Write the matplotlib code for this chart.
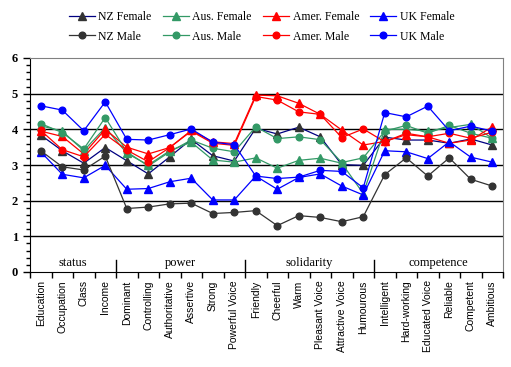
import matplotlib.pyplot as plt
from matplotlib.ticker import MultipleLocator

categories = ['Education', 'Occupation', 'Class', 'Income',
              'Dominant', 'Controlling', 'Authoritative', 'Assertive', 'Strong', 'Powerful Voice',
              'Friendly', 'Cheerful', 'Warm', 'Pleasant Voice', 'Attractive Voice', 'Humourous',
              'Intelligent', 'Hard-working', 'Educated Voice', 'Reliable', 'Competent', 'Ambitious']
groups = ['status', 'power', 'solidarity', 'competence']
group_sizes = [4, 6, 6, 6]

nz_female = [3.84, 3.40, 3.05, 3.49, 3.12, 2.75, 3.23, 3.72, 3.26, 3.11,
             4.03, 3.87, 4.06, 3.79, 3.01, 2.99, 3.78, 3.70, 3.70, 3.61, 3.73, 3.56]
aus_female = [4.10, 3.95, 3.40, 4.05, 3.33, 3.00, 3.40, 3.64, 3.14, 3.08,
              3.20, 2.91, 3.13, 3.19, 3.05, 2.20, 4.00, 4.00, 3.95, 4.05, 4.14, 3.75]
amer_female = [3.95, 3.80, 3.31, 4.00, 3.50, 3.31, 3.49, 3.97, 3.65, 3.60,
               4.96, 4.94, 4.73, 4.42, 3.98, 3.56, 3.66, 3.85, 3.79, 3.61, 3.70, 4.07]
uk_female = [3.37, 2.74, 2.64, 2.99, 2.32, 2.34, 2.53, 2.63, 2.02, 2.02,
             2.69, 2.32, 2.65, 2.75, 2.41, 2.16, 3.40, 3.37, 3.18, 3.65, 3.22, 3.08]
nz_male = [3.40, 2.95, 2.86, 3.25, 1.78, 1.82, 1.91, 1.93, 1.64, 1.67,
           1.72, 1.30, 1.58, 1.53, 1.41, 1.55, 2.73, 3.20, 2.69, 3.20, 2.60, 2.41]
aus_male = [4.16, 3.91, 3.45, 4.33, 3.37, 2.97, 3.37, 3.70, 3.47, 3.37,
            4.07, 3.74, 3.79, 3.71, 3.07, 3.20, 3.95, 4.11, 3.89, 4.11, 3.89, 3.75]
amer_male = [3.97, 3.43, 3.23, 3.86, 3.42, 3.09, 3.49, 3.95, 3.61, 3.55,
             4.92, 4.82, 4.49, 4.42, 3.77, 4.01, 3.65, 3.89, 3.79, 3.89, 3.75, 3.92]
uk_male = [4.66, 4.54, 3.96, 4.77, 3.72, 3.70, 3.85, 4.01, 3.64, 3.57,
           2.69, 2.62, 2.66, 2.85, 2.82, 2.36, 4.47, 4.35, 4.65, 3.96, 4.09, 3.95]

# (label, values, line colour, marker, marker colour)
series = [
    ('NZ Female', nz_female, '#000080', '^', '#333333'),
    ('Aus. Female', aus_female, '#339966', '^', '#339966'),
    ('Amer. Female', amer_female, '#ff0000', '^', '#ff0000'),
    ('UK Female', uk_female, '#0000ff', '^', '#0000ff'),
    ('NZ Male', nz_male, '#333333', 'o', '#333333'),
    ('Aus. Male', aus_male, '#339966', 'o', '#339966'),
    ('Amer. Male', amer_male, '#ff0000', 'o', '#ff0000'),
    ('UK Male', uk_male, '#0000ff', 'o', '#0000ff'),
]

serif = ['Liberation Serif', 'DejaVu Serif']
sans = ['Liberation Sans', 'DejaVu Sans']

fig = plt.figure(figsize=(5.11, 3.67), dpi=100)
ax = fig.add_axes([30 / 511, 1 - 272 / 367, 473 / 511, 214 / 367])

x = list(range(len(categories)))
handles = {}
for label, vals, lc, mk, mc in series:
    h, = ax.plot(x, vals, color=lc, linewidth=0.9, marker=mk,
                 markersize=4.8 if mk == 'o' else 5.2, markerfacecolor=mc,
                 markeredgecolor=mc, label=label)
    handles[label] = h

ax.set_xlim(-0.5, len(categories) - 0.5)
ax.set_ylim(0, 6)
for yv in range(1, 6):
    ax.axhline(yv, color='black', linewidth=1, zorder=0)

ax.yaxis.set_major_locator(MultipleLocator(1))
ax.yaxis.set_minor_locator(MultipleLocator(0.2))
ax.tick_params(axis='y', which='major', length=5, width=1, direction='out')
ax.tick_params(axis='y', which='minor', length=3, width=1, direction='out')
for t in ax.get_yticklabels():
    t.set_fontfamily(serif)
    t.set_fontweight('bold')
    t.set_fontsize(9)

ax.set_xticks([i - 0.5 for i in range(len(categories) + 1)])
ax.set_xticklabels([])
ax.set_xticks(x, minor=True)
ax.set_xticklabels(categories, minor=True, rotation=90, fontsize=7.5, family=sans)
ax.tick_params(axis='x', which='major', length=4, width=1, direction='out')
ax.tick_params(axis='x', which='minor', length=0, pad=6)

for side in ['top', 'right']:
    ax.spines[side].set_color('#808080')
for side in ['left', 'bottom']:
    ax.spines[side].set_color('black')

# group labels under the lines
start = 0
for name, n in zip(groups, group_sizes):
    ax.text(start + (n - 1) / 2, 0.25, name, ha='center', va='center',
            fontsize=9, family=serif)
    if start > 0:
        ax.plot([start - 0.5, start - 0.5], [0, 0.35], color='black', linewidth=1)
    start += n

order = ['NZ Female', 'NZ Male', 'Aus. Female', 'Aus. Male',
         'Amer. Female', 'Amer. Male', 'UK Female', 'UK Male']
fig.legend([handles[k] for k in order], order, ncol=4, loc='center',
           bbox_to_anchor=(0.512, 0.927), frameon=False,
           prop={'family': serif, 'size': 8.5}, handlelength=2.2,
           handletextpad=0.3, columnspacing=0.95, labelspacing=0.65)

fig.savefig('out.png', dpi=100)
